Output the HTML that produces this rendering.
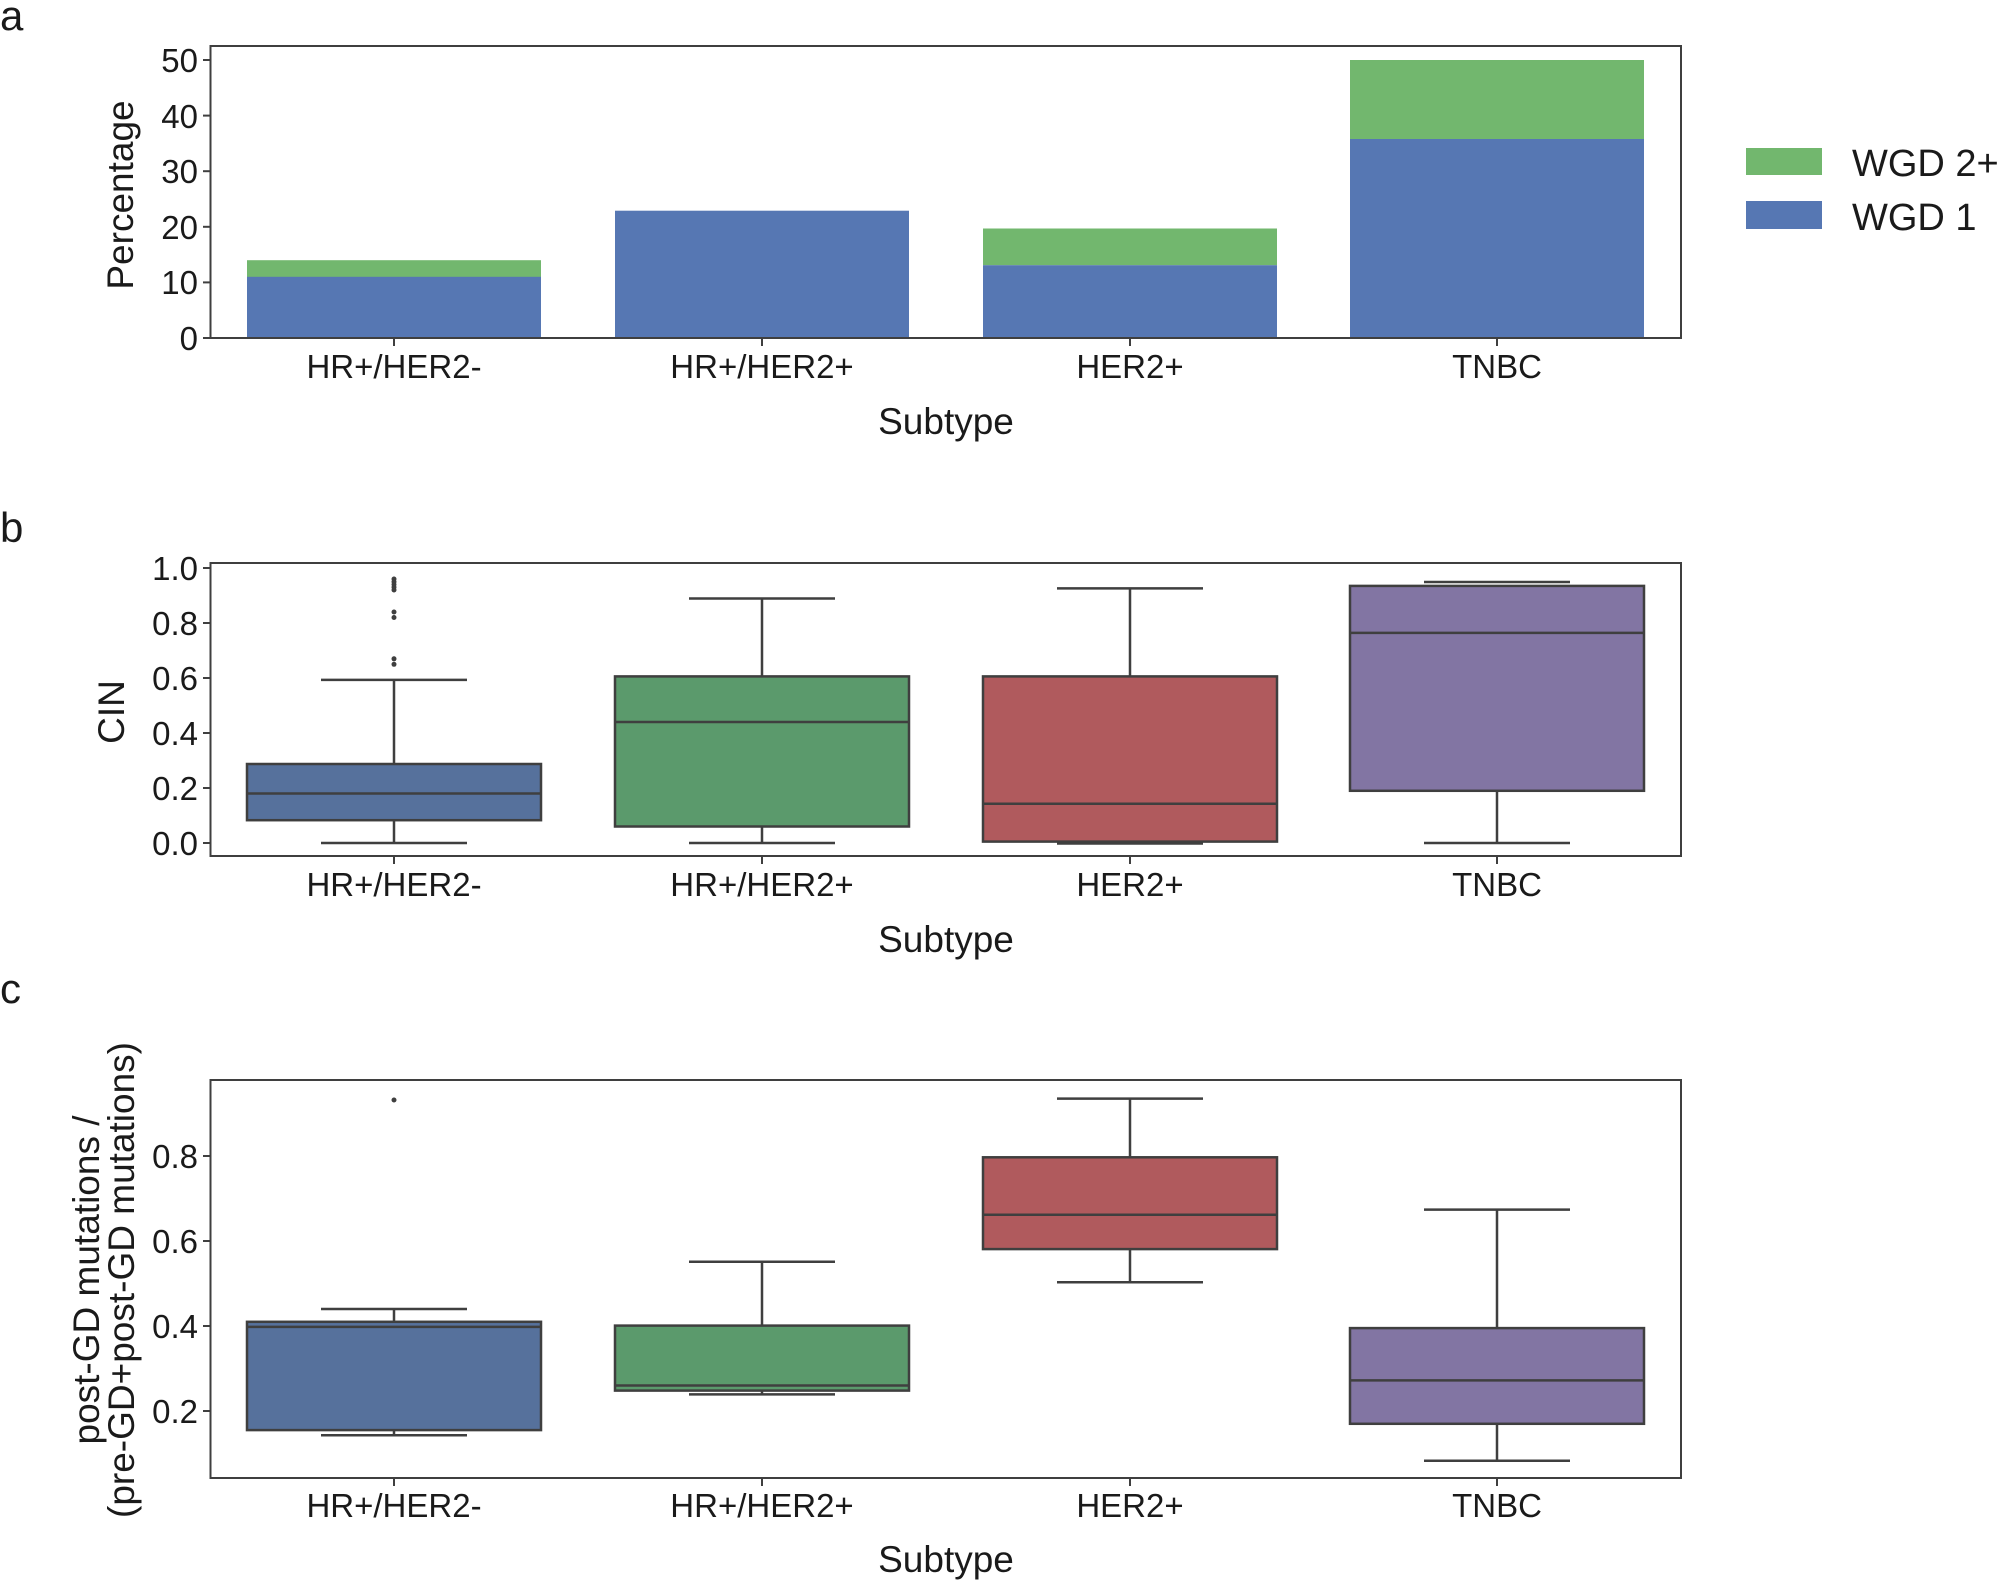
<!DOCTYPE html>
<html><head><meta charset="utf-8"><style>html,body{margin:0;padding:0;background:#fff}svg{display:block}</style></head><body>
<svg width="2000" height="1582" viewBox="0 0 2000 1582" xmlns="http://www.w3.org/2000/svg" font-family="Liberation Sans, Arial, sans-serif" fill="#1a1a1a">
<text x="0" y="30" font-size="42">a</text>
<text x="0" y="542" font-size="42">b</text>
<text x="0" y="1003" font-size="42">c</text>

<!-- Panel a -->
<g>
<rect x="247" y="260.2" width="294" height="16.8" fill="#72b76e"/>
<rect x="247" y="276.8" width="294" height="61.2" fill="#5677b3"/>
<rect x="615" y="210.7" width="294" height="127.3" fill="#5677b3"/>
<rect x="983" y="228.5" width="294" height="36.7" fill="#72b76e"/>
<rect x="983" y="265.2" width="294" height="72.8" fill="#5677b3"/>
<rect x="1350" y="60" width="294" height="79" fill="#72b76e"/>
<rect x="1350" y="139" width="294" height="199" fill="#5677b3"/>
<rect x="210.5" y="46" width="1470.5" height="292" fill="none" stroke="#3f3f3f" stroke-width="2"/>
<g stroke="#3f3f3f" stroke-width="2">
<line x1="203" x2="210" y1="338" y2="338"/><line x1="203" x2="210" y1="282.4" y2="282.4"/><line x1="203" x2="210" y1="226.8" y2="226.8"/><line x1="203" x2="210" y1="171.2" y2="171.2"/><line x1="203" x2="210" y1="115.6" y2="115.6"/><line x1="203" x2="210" y1="60" y2="60"/>
<line x1="394" x2="394" y1="338" y2="346"/><line x1="762" x2="762" y1="338" y2="346"/><line x1="1130" x2="1130" y1="338" y2="346"/><line x1="1497" x2="1497" y1="338" y2="346"/>
</g>
<g font-size="33" text-anchor="end">
<text x="198" y="350">0</text><text x="198" y="294">10</text><text x="198" y="239">20</text><text x="198" y="183">30</text><text x="198" y="128">40</text><text x="198" y="72">50</text>
</g>
<g font-size="33" text-anchor="middle">
<text x="394" y="378">HR+/HER2-</text><text x="762" y="378">HR+/HER2+</text><text x="1130" y="378">HER2+</text><text x="1497" y="378">TNBC</text>
</g>
<text x="946" y="434" font-size="37" text-anchor="middle">Subtype</text>
<text transform="translate(133,195) rotate(-90)" font-size="37" text-anchor="middle">Percentage</text>
<rect x="1746" y="148" width="76" height="27" fill="#72b76e"/>
<rect x="1746" y="201" width="76" height="28" fill="#5677b3"/>
<text x="1852" y="176" font-size="38">WGD 2+</text>
<text x="1852" y="230" font-size="38">WGD 1</text>
</g>

<!-- Panel b -->
<g stroke="#3f3f3f" stroke-width="2.5">
<line x1="394" x2="394" y1="679.9" y2="764"/><line x1="394" x2="394" y1="820.2" y2="843"/>
<line x1="321" x2="467" y1="679.9" y2="679.9"/><line x1="321" x2="467" y1="843" y2="843"/>
<rect x="247" y="764" width="294" height="56.2" fill="#56719c"/>
<line x1="247" x2="541" y1="793.5" y2="793.5"/>
<line x1="762" x2="762" y1="598.5" y2="676.4"/><line x1="762" x2="762" y1="826.5" y2="843"/>
<line x1="689" x2="835" y1="598.5" y2="598.5"/><line x1="689" x2="835" y1="843" y2="843"/>
<rect x="615" y="676.4" width="294" height="150.1" fill="#5b9a6c"/>
<line x1="615" x2="909" y1="722" y2="722"/>
<line x1="1130" x2="1130" y1="588.4" y2="676.4"/>
<line x1="1057" x2="1203" y1="588.4" y2="588.4"/><line x1="1057" x2="1203" y1="843.5" y2="843.5"/>
<rect x="983" y="676.4" width="294" height="165.2" fill="#b05a5d"/>
<line x1="983" x2="1277" y1="803.7" y2="803.7"/>
<line x1="1497" x2="1497" y1="790.8" y2="843"/>
<line x1="1424" x2="1570" y1="582" y2="582"/><line x1="1424" x2="1570" y1="843" y2="843"/>
<rect x="1350" y="585.9" width="294" height="204.9" fill="#8275a3"/>
<line x1="1350" x2="1644" y1="632.9" y2="632.9"/>
</g>
<g fill="#3f3f3f">
<circle cx="394" cy="579" r="2.5"/><circle cx="394" cy="581.8" r="2.5"/><circle cx="394" cy="584.5" r="2.5"/><circle cx="394" cy="587.3" r="2.5"/><circle cx="394" cy="590" r="2.5"/>
<circle cx="394" cy="612" r="2.5"/><circle cx="394" cy="617.5" r="2.5"/><circle cx="394" cy="658.8" r="2.5"/><circle cx="394" cy="664.3" r="2.5"/>
</g>
<rect x="210.5" y="563" width="1470.5" height="293" fill="none" stroke="#3f3f3f" stroke-width="2"/>
<g stroke="#3f3f3f" stroke-width="2">
<line x1="203" x2="210" y1="843" y2="843"/><line x1="203" x2="210" y1="788" y2="788"/><line x1="203" x2="210" y1="733" y2="733"/><line x1="203" x2="210" y1="678" y2="678"/><line x1="203" x2="210" y1="623" y2="623"/><line x1="203" x2="210" y1="568" y2="568"/>
<line x1="394" x2="394" y1="856" y2="864"/><line x1="762" x2="762" y1="856" y2="864"/><line x1="1130" x2="1130" y1="856" y2="864"/><line x1="1497" x2="1497" y1="856" y2="864"/>
</g>
<g font-size="33" text-anchor="end">
<text x="198" y="855">0.0</text><text x="198" y="800">0.2</text><text x="198" y="745">0.4</text><text x="198" y="690">0.6</text><text x="198" y="635">0.8</text><text x="198" y="580">1.0</text>
</g>
<g font-size="33" text-anchor="middle">
<text x="394" y="896">HR+/HER2-</text><text x="762" y="896">HR+/HER2+</text><text x="1130" y="896">HER2+</text><text x="1497" y="896">TNBC</text>
</g>
<text x="946" y="952" font-size="37" text-anchor="middle">Subtype</text>
<text transform="translate(124,712) rotate(-90)" font-size="37" text-anchor="middle">CIN</text>

<!-- Panel c -->
<g stroke="#3f3f3f" stroke-width="2.5">
<line x1="394" x2="394" y1="1309" y2="1321.8"/><line x1="394" x2="394" y1="1430.1" y2="1435.2"/>
<line x1="321" x2="467" y1="1309" y2="1309"/><line x1="321" x2="467" y1="1435.2" y2="1435.2"/>
<rect x="247" y="1321.8" width="294" height="108.3" fill="#56719c"/>
<line x1="247" x2="541" y1="1326.9" y2="1326.9"/>
<line x1="762" x2="762" y1="1261.8" y2="1325.6"/><line x1="762" x2="762" y1="1390.6" y2="1394.4"/>
<line x1="689" x2="835" y1="1261.8" y2="1261.8"/><line x1="689" x2="835" y1="1394.4" y2="1394.4"/>
<rect x="615" y="1325.6" width="294" height="65" fill="#5b9a6c"/>
<line x1="615" x2="909" y1="1385.5" y2="1385.5"/>
<line x1="1130" x2="1130" y1="1098.6" y2="1157.3"/><line x1="1130" x2="1130" y1="1249.1" y2="1282.2"/>
<line x1="1057" x2="1203" y1="1098.6" y2="1098.6"/><line x1="1057" x2="1203" y1="1282.2" y2="1282.2"/>
<rect x="983" y="1157.3" width="294" height="91.8" fill="#b05a5d"/>
<line x1="983" x2="1277" y1="1214.7" y2="1214.7"/>
<line x1="1497" x2="1497" y1="1209.6" y2="1328.1"/><line x1="1497" x2="1497" y1="1423.8" y2="1460.7"/>
<line x1="1424" x2="1570" y1="1209.6" y2="1209.6"/><line x1="1424" x2="1570" y1="1460.7" y2="1460.7"/>
<rect x="1350" y="1328.1" width="294" height="95.7" fill="#8275a3"/>
<line x1="1350" x2="1644" y1="1380.4" y2="1380.4"/>
</g>
<circle cx="394" cy="1100" r="2.5" fill="#3f3f3f"/>
<rect x="210.5" y="1080" width="1470.5" height="398" fill="none" stroke="#3f3f3f" stroke-width="2"/>
<g stroke="#3f3f3f" stroke-width="2">
<line x1="203" x2="210" y1="1411" y2="1411"/><line x1="203" x2="210" y1="1326" y2="1326"/><line x1="203" x2="210" y1="1241" y2="1241"/><line x1="203" x2="210" y1="1156" y2="1156"/>
<line x1="394" x2="394" y1="1478" y2="1486"/><line x1="762" x2="762" y1="1478" y2="1486"/><line x1="1130" x2="1130" y1="1478" y2="1486"/><line x1="1497" x2="1497" y1="1478" y2="1486"/>
</g>
<g font-size="33" text-anchor="end">
<text x="198" y="1423">0.2</text><text x="198" y="1338">0.4</text><text x="198" y="1253">0.6</text><text x="198" y="1168">0.8</text>
</g>
<g font-size="33" text-anchor="middle">
<text x="394" y="1517">HR+/HER2-</text><text x="762" y="1517">HR+/HER2+</text><text x="1130" y="1517">HER2+</text><text x="1497" y="1517">TNBC</text>
</g>
<text x="946" y="1572" font-size="37" text-anchor="middle">Subtype</text>
<text transform="translate(99,1280) rotate(-90)" font-size="37" text-anchor="middle">post-GD mutations /</text>
<text transform="translate(134,1280) rotate(-90)" font-size="37" text-anchor="middle">(pre-GD+post-GD mutations)</text>
</svg>
</body></html>
